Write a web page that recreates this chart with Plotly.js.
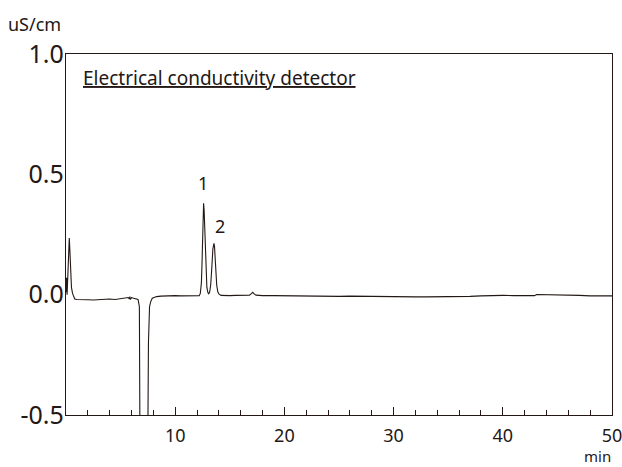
<!DOCTYPE html>
<html>
<head>
<meta charset="utf-8">
<script src="https://cdn.plot.ly/plotly-3.0.1.min.js"></script>
<style>html,body{margin:0;padding:0;background:#fff;}#chart{width:622px;height:467px;}</style>
</head>
<body>
<div id="chart"></div>
<script>
// Retention time (min)
const timeMin = [
  0, 0.05, 0.1, 0.15, 0.2, 0.25, 0.3, 0.35, 0.4, 0.45, 0.5, 0.6, 0.7, 0.8, 1.0,
  1.5, 2.0, 2.5, 3.0, 3.5, 4.0, 4.5, 5.0, 5.5, 5.7, 5.8, 5.85, 5.9, 6.0, 6.2, 6.4, 6.6,
  6.72, 6.8, 7.45, 7.55, 7.65, 7.75, 7.9, 8.3, 8.7, 9.0, 9.5, 10, 10.5, 11, 11.5, 12,
  12.2, 12.3, 12.4, 12.45, 12.5, 12.55, 12.6, 12.65, 12.7, 12.75, 12.8, 12.9, 13.0, 13.07,
  13.15, 13.25, 13.35, 13.45, 13.55, 13.6, 13.65, 13.7, 13.8, 13.9, 14.0, 14.2, 14.5,
  15, 15.5, 16, 16.5, 16.8, 17.0, 17.1, 17.2, 17.4, 17.7,
  18, 19, 20, 21, 22, 23, 24, 25, 26, 27, 28, 29, 30, 31, 31.5, 32, 33, 34, 35, 36, 37, 38, 39, 40,
  41, 42, 42.9, 43.1, 44, 45, 46, 46.5, 47, 48, 49, 50
];
// Conductivity (uS/cm)
const conductivity = [
  0.01, 0.07, 0.0, 0.08, 0.16, 0.22, 0.235, 0.19, 0.11, 0.06, 0.03, 0.005, -0.012, -0.018, -0.02,
  -0.022, -0.021, -0.022, -0.02, -0.02, -0.018, -0.02, -0.017, -0.016, -0.012, -0.018, -0.008, -0.02, -0.012, -0.015, -0.016, -0.02,
  -0.05, -0.9, -0.9, -0.2, -0.05, -0.03, -0.015, -0.008, -0.006, -0.005, -0.005, -0.004, -0.005, -0.004, -0.005, -0.004,
  -0.004, 0.005, 0.05, 0.12, 0.24, 0.34, 0.38, 0.35, 0.27, 0.17, 0.09, 0.03, 0.008, 0.004,
  0.01, 0.04, 0.11, 0.19, 0.213, 0.2, 0.16, 0.1, 0.04, 0.012, 0.003, -0.003, -0.004,
  -0.004, -0.003, -0.003, -0.002, -0.002, 0.005, 0.01, 0.004, -0.002, -0.003,
  -0.004, -0.004, -0.005, -0.006, -0.006, -0.006, -0.006, -0.007, -0.006, -0.007, -0.007, -0.008, -0.008, -0.009, -0.011, -0.009, -0.009, -0.009, -0.008, -0.008, -0.007, -0.005, -0.003, -0.003,
  -0.004, -0.004, -0.004, 0.001, 0.0, 0.0, -0.001, 0.0, -0.003, -0.005, -0.005, -0.005
];
const xTickVals = [10, 20, 30, 40, 50];
const yTickVals = [-0.5, 0, 0.5, 1.0];
const yTickText = ['-0.5', '0.0', '0.5', '1.0'];
const peakLabels = ['1', '2'];
const peakLabelX = [12.52, 14.08];
const peakLabelY = [0.4625, 0.284];

const ink = '#231815';
const fontFam = 'Noto Sans, Open Sans, sans-serif';

const annotations = [
  {text: 'Electrical conductivity detector', xref: 'paper', yref: 'paper', x: 0.0274, y: 0.9335,
   xanchor: 'left', yanchor: 'middle', showarrow: false,
   font: {family: fontFam, size: 19, color: ink, lineposition: 'under'}},
  {text: 'uS/cm', xref: 'paper', yref: 'paper', x: -0.057, y: 1.083, xanchor: 'center', yanchor: 'middle',
   showarrow: false, font: {family: fontFam, size: 18, color: ink}},
  {text: 'min', xref: 'paper', yref: 'paper', x: 0.974, y: -0.144, xanchor: 'center', yanchor: 'bottom',
   showarrow: false, borderpad: 0, font: {family: fontFam, size: 15, color: ink}}
];
peakLabels.forEach((t, i) => annotations.push({
  text: t, x: peakLabelX[i], y: peakLabelY[i], xref: 'x', yref: 'y', showarrow: false,
  xanchor: 'center', yanchor: 'middle', font: {family: fontFam, size: 18, color: ink}
}));

Plotly.newPlot('chart', [{
  x: timeMin, y: conductivity, type: 'scatter', mode: 'lines',
  line: {color: ink, width: 1.1}, hoverinfo: 'skip'
}], {
  width: 622, height: 467,
  margin: {l: 66, r: 10, t: 54, b: 52},
  paper_bgcolor: '#fff', plot_bgcolor: '#fff',
  showlegend: false,
  font: {family: fontFam, color: ink},
  xaxis: {
    range: [0, 50], tickvals: xTickVals, ticks: 'inside', ticklen: 8, tickcolor: ink, tickwidth: 1,
    minor: {dtick: 2, tick0: 0, ticks: 'inside', ticklen: 5, tickcolor: ink, tickwidth: 1, showgrid: false},
    showline: true, linecolor: ink, linewidth: 1.2, mirror: true, showgrid: false, zeroline: false,
    tickfont: {family: fontFam, size: 18, color: ink}, ticklabelstandoff: 4, ticklabeloverflow: 'allow'
  },
  yaxis: {
    range: [-0.5, 1.0], tickvals: yTickVals, ticktext: yTickText, ticks: '',
    showline: true, linecolor: ink, linewidth: 1.2, mirror: true, showgrid: false, zeroline: false,
    tickfont: {family: fontFam, size: 25, color: ink}, ticklabelstandoff: -4, ticklabeloverflow: 'allow'
  },
  annotations: annotations
}, {displayModeBar: false, staticPlot: true});
</script>
</body>
</html>
